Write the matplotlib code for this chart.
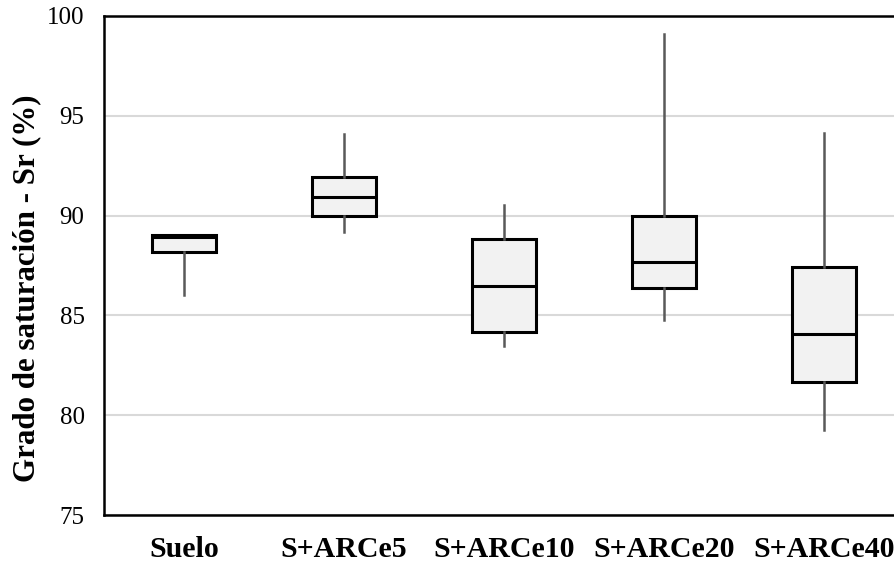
import matplotlib
matplotlib.use("Agg")
import matplotlib.pyplot as plt

# Box-plot summary statistics for each mix
categories = ["Suelo", "S+ARCe5", "S+ARCe10", "S+ARCe20", "S+ARCe40"]
whisker_low = [86.0, 89.2, 83.47, 84.75, 79.25]
q1 = [88.17, 90.0, 84.17, 86.35, 81.67]
median = [88.95, 90.95, 86.47, 87.7, 84.08]
q3 = [89.05, 91.95, 88.82, 89.97, 87.4]
whisker_high = [89.05, 94.1, 90.51, 99.1, 94.13]

y_ticks = [75, 80, 85, 90, 95, 100]

plt.rcParams["font.family"] = ["Liberation Serif", "DejaVu Serif"]

W, H = 894, 563
fig = plt.figure(figsize=(W / 100, H / 100), dpi=100)
left_px, right_px, top_px, bottom_px = 104, 903.6, 16, 515
ax = fig.add_axes([left_px / W, 1 - bottom_px / H,
                   (right_px - left_px) / W, (bottom_px - top_px) / H])

stats = []
for i, name in enumerate(categories):
    stats.append(dict(label=name, whislo=whisker_low[i], q1=q1[i],
                      med=median[i], q3=q3[i], whishi=whisker_high[i],
                      fliers=[]))

positions = list(range(len(categories)))
ax.bxp(stats, positions=positions, widths=0.4, patch_artist=True,
       showfliers=False, showcaps=False,
       boxprops=dict(facecolor="#f2f2f2", edgecolor="black", linewidth=2.2),
       medianprops=dict(color="black", linewidth=2.2),
       whiskerprops=dict(color="#595959", linewidth=1.8),
       zorder=3)

ax.set_xlim(-0.5, len(categories) - 0.5)
ax.set_ylim(75, 100)
ax.set_yticks(y_ticks)
ax.set_xticks(positions)
ax.set_xticklabels(categories, fontsize=21.5, fontweight="bold")
ax.tick_params(axis="x", length=0, pad=15)
ax.tick_params(axis="y", length=0, pad=14, labelsize=18)

ax.yaxis.grid(True, color="#d9d9d9", linewidth=1.5, zorder=0)
ax.set_axisbelow(True)

for side in ["left", "top", "bottom", "right"]:
    ax.spines[side].set_color("black")
    ax.spines[side].set_linewidth(1.8)

ax.set_ylabel("Grado de saturación - Sr (%)", fontsize=22.3, fontweight="bold")
ax.yaxis.set_label_coords(-0.078, 0.455)

fig.savefig("out.png", dpi=100)
